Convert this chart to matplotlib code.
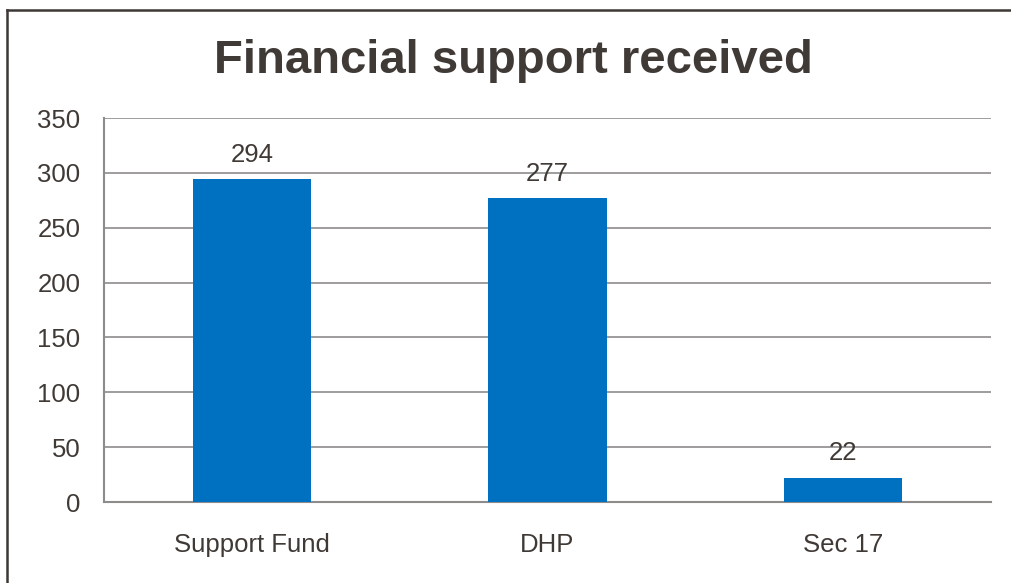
import matplotlib
matplotlib.use("Agg")
import matplotlib.pyplot as plt
from matplotlib.lines import Line2D

categories = ["Support Fund", "DHP", "Sec 17"]
values = [294, 277, 22]
yticks = [0, 50, 100, 150, 200, 250, 300, 350]

text_color = "#403a37"
grid_color = "#8e8b8b"
bar_color = "#0070c0"

plt.rcParams["font.family"] = ["Liberation Sans", "DejaVu Sans"]

fig = plt.figure(figsize=(10.12, 5.83), dpi=100)
ax = fig.add_axes([104 / 1012, 81 / 583, 887 / 1012, 384 / 583])

x = range(len(categories))
bars = ax.bar(x, values, width=0.4, color=bar_color, zorder=3)

for b, v in zip(bars, values):
    ax.annotate(str(v), (b.get_x() + b.get_width() / 2, v),
                xytext=(0, 9), textcoords="offset points",
                ha="center", va="bottom", fontsize=18.5, color=text_color)

ax.set_xlim(-0.5, len(categories) - 0.5)
ax.set_ylim(0, 350)
ax.set_yticks(yticks)
ax.set_xticks(list(x))
ax.set_xticklabels(categories)
ax.tick_params(axis="both", length=0, labelsize=18.5, labelcolor=text_color)
ax.tick_params(axis="y", pad=17)
ax.tick_params(axis="x", pad=22)

ax.grid(axis="y", color=grid_color, linewidth=1.2, zorder=0)
for side in ("top", "right"):
    ax.spines[side].set_visible(False)
for side in ("left", "bottom"):
    ax.spines[side].set_color(grid_color)
    ax.spines[side].set_linewidth(1.5)

fig.text(513 / 1012, 1 - 61 / 583, "Financial support received",
         ha="center", va="center", fontsize=34, fontweight="bold",
         color=text_color)

# Outer frame: top and left edges
fig.add_artist(Line2D([7 / 1012, 7 / 1012], [0, 1 - 10 / 583],
                      transform=fig.transFigure, color="#3d3835", linewidth=1.8))
fig.add_artist(Line2D([7 / 1012, 1], [1 - 10 / 583, 1 - 10 / 583],
                      transform=fig.transFigure, color="#3d3835", linewidth=1.8))

fig.savefig("out.png", dpi=100, facecolor="white")
